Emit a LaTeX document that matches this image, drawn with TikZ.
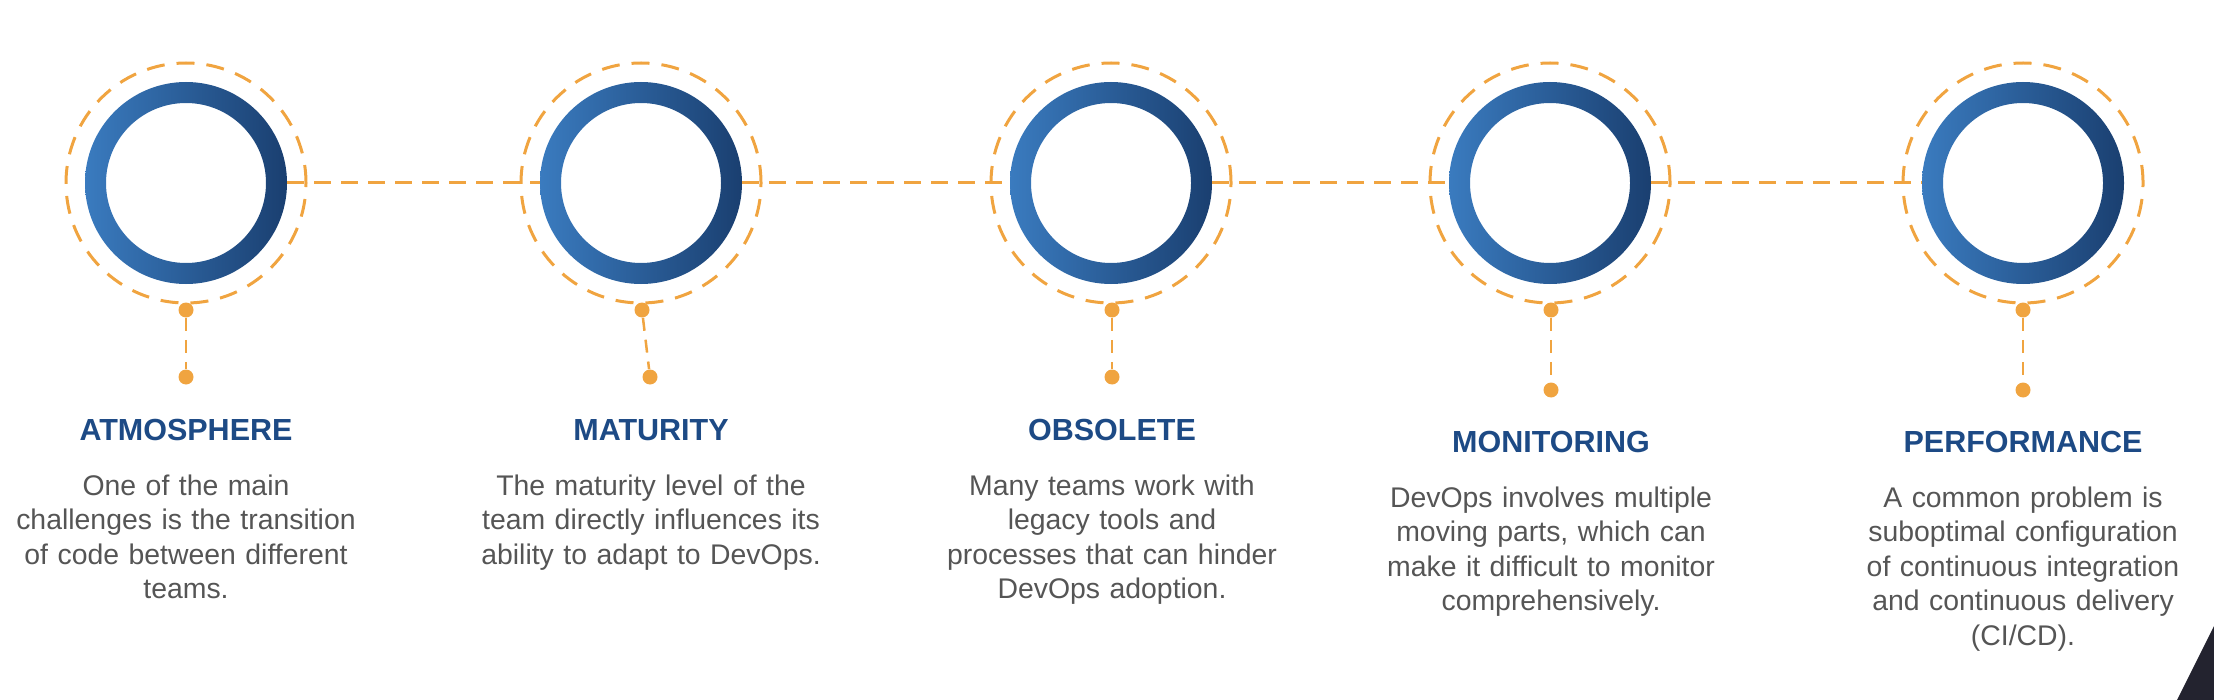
\documentclass[tikz,border=0pt]{standalone}
\usepackage{fontspec}
\setmainfont{Liberation Sans}
\usetikzlibrary{positioning}
\definecolor{ringlight}{HTML}{3A7BBF}
\definecolor{ringdark}{HTML}{1A3F70}
\definecolor{accent}{HTML}{F0A440}
\definecolor{headblue}{HTML}{1D4A85}
\definecolor{bodygray}{HTML}{555555}
\definecolor{cornerdark}{HTML}{23232F}
\tikzset{
  halo/.style={circle, draw=accent, line width=1.5pt,
    dash pattern=on 9pt off 6pt, minimum size=120pt, inner sep=0pt}, % dashed outer circle
  ring/.style={circle, minimum size=101pt, inner sep=0pt}, % blue ring, outer edge
  pin/.style={circle, fill=accent, minimum size=7.5pt, inner sep=0pt},
  link/.style={draw=accent, line width=1.5pt, dash pattern=on 8.5pt off 5pt},
  stem/.style={draw=accent, line width=1.25pt, dash pattern=on 6.5pt off 4.5pt},
  heading/.style={anchor=base, inner sep=0pt, text=headblue,
    font=\fontsize{15.25}{18}\selectfont\bfseries},
  blurb/.style={anchor=base, inner sep=0pt, align=center, text width=210pt,
    text=bodygray, font=\fontsize{14.2}{17.25}\selectfont},
}

\begin{document}
\begin{tikzpicture}[x=0.5pt, y=0.5pt]
  \useasboundingbox (0,0) rectangle (2214,-700);

  % circles
  \foreach \name/\cx in {atm/186, mat/641, obs/1111, mon/1550, perf/2023}{
    \node[halo] (\name-halo) at (\cx,-183) {};
    \node[ring] (\name) at (\cx,-183) {};
    \shade[left color=ringlight, right color=ringdark, even odd rule]
      (\cx,-183) circle (50.5pt) (\cx,-183) circle (40pt);
  }

  % timeline
  \draw[link] (atm.east) -- (mat.west);
  \draw[link] (mat.east) -- (obs.west);
  \draw[link] (obs.east) -- (mon.west);
  \draw[link] (mon.east) -- (perf.west);

  % pins
  \node[pin] (atm-top) at (186,-310) {};
  \node[pin] (atm-end) at (186,-377) {};
  \node[pin] (mat-top) at (642,-310) {};
  \node[pin] (mat-end) at (650,-377) {};
  \node[pin] (obs-top) at (1112,-310) {};
  \node[pin] (obs-end) at (1112,-377) {};
  \node[pin] (mon-top) at (1551,-310) {};
  \node[pin] (mon-end) at (1551,-390) {};
  \node[pin] (perf-top) at (2023,-310) {};
  \node[pin] (perf-end) at (2023,-390) {};
  \foreach \name in {atm, mat, obs, mon, perf}
    \draw[stem] (\name-top) -- (\name-end);

  % texts
  \node[heading] (atm-head) at (186,-440) {ATMOSPHERE};
  \node[blurb] (atm-text) at (186,-495) {One of the main\\challenges is the transition\\of code between different\\teams.};
  \node[heading] (mat-head) at (651,-440) {MATURITY};
  \node[blurb] (mat-text) at (651,-495) {The maturity level of the\\team directly influences its\\ability to adapt to DevOps.};
  \node[heading] (obs-head) at (1112,-440) {OBSOLETE};
  \node[blurb] (obs-text) at (1112,-495) {Many teams work with\\legacy tools and\\processes that can hinder\\DevOps adoption.};
  \node[heading] (mon-head) at (1551,-452) {MONITORING};
  \node[blurb] (mon-text) at (1551,-507) {DevOps involves multiple\\moving parts, which can\\make it difficult to monitor\\comprehensively.};
  \node[heading] (perf-head) at (2023,-452) {PERFORMANCE};
  \node[blurb] (perf-text) at (2023,-507) {A common problem is\\suboptimal configuration\\of continuous integration\\and continuous delivery\\(CI/CD).};

  % corner
  \fill[cornerdark] (2177,-700) -- (2214,-626) -- (2214,-700) -- cycle;
\end{tikzpicture}
\end{document}
